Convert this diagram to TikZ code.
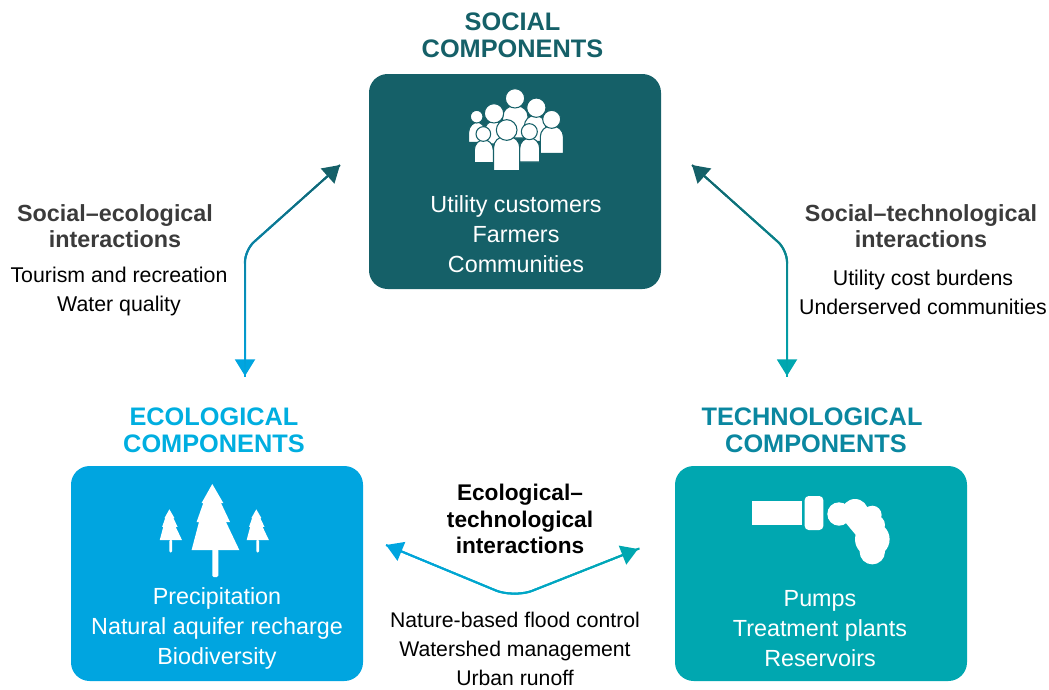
\documentclass[tikz,border=0pt]{standalone}
\usepackage{fontspec}
\setmainfont{Liberation Sans}
\usetikzlibrary{arrows.meta,decorations.markings}
\definecolor{socialc}{HTML}{156068}
\definecolor{ecoc}{HTML}{00A5E0}
\definecolor{techc}{HTML}{00A7B0}
\definecolor{ecohead}{HTML}{00AEE0}
\definecolor{techhead}{HTML}{0A87A0}
\definecolor{labelc}{HTML}{3B3B3B}
\newcommand{\gradpath}[4]{%
  \path[decorate,rounded corners=#4,decoration={markings,
    mark=between positions 0 and 1 step 1pt with {%
      \pgfmathsetmacro{\gradt}{100*(\pgfkeysvalueof{/pgf/decoration/mark info/distance from start}/\pgfdecoratedpathlength)}%
      \draw[line width=1.5pt,color=#2!\gradt!#1] (0,0) -- (1.4pt,0);
    }}] #3;%
}
\newcommand{\persona}[7]{%
  \path[iconfig] ({440+(#4-2)/3},{80+(#7+2)/3}) [rounded corners=8pt] -- ({440+(#4-2)/3},{80+(#6-2)/3}) -- ({440+(#5+2)/3},{80+(#6-2)/3}) [sharp corners] -- ({440+(#5+2)/3},{80+(#7+2)/3}) -- cycle;
  \path[iconfig] ({440+(#1)/3},{80+(#2)/3}) circle ({(#3+3)/3});
}
\newcommand{\bigtree}[3]{% x-offset y-offset scale
  \begin{scope}[shift={(#1,#2)},x=#3*0.75pt,y=-#3*0.75pt]
    \fill[white] (-3,-66) -- (8,-47) -- (5.7,-47) -- (14.7,-28) -- (10.7,-28) -- (24,0) -- (-23.7,0) -- (-16.3,-28) -- (-18.7,-28) -- (-12,-47) -- (-13.7,-47) -- cycle;
    \fill[white,rounded corners=1pt] (-3,-1) rectangle (3,27);
  \end{scope}
}
\tikzset{
  box/.style={rounded corners=14pt,minimum width=219pt,minimum height=161.25pt,inner sep=0pt,draw=none},
  boxtext/.style={text=white,font=\fontsize{17.5pt}{22.5pt}\selectfont,align=center,inner sep=0pt},
  headtext/.style={font=\fontsize{19pt}{20.3pt}\selectfont\bfseries,align=center,inner sep=0pt},
  intertitle/.style={font=\fontsize{17.5pt}{19.6pt}\selectfont\bfseries,align=center,inner sep=0pt,text=labelc},
  interlist/.style={font=\fontsize{16pt}{21.2pt}\selectfont,align=center,inner sep=0pt,text=black},
  iconfig/.style={fill=white,draw=socialc,line width=0.8pt},
  link/.style={line width=1.5pt,rounded corners=9pt},
}
\begin{document}
\begin{tikzpicture}[x=0.75pt,y=-0.75pt]
\useasboundingbox (0,0) rectangle (1049,689);

\node[box,fill=socialc] (social) at (515,181.5) {};
\node[box,fill=ecoc] (eco) at (217,573.5) {};
\node[box,fill=techc] (tech) at (821,573.5) {};

\node[headtext,text=socialc] (socialhead) at (512.5,35) {SOCIAL\\COMPONENTS};
\node[headtext,text=ecohead] (ecohd) at (214,430) {ECOLOGICAL\\COMPONENTS};
\node[headtext,text=techhead] (techhd) at (812,430) {TECHNOLOGICAL\\\hspace*{6pt}COMPONENTS};

\node[boxtext] (socialtext) at (516,234.5) {Utility customers\\Farmers\\Communities};
\node[boxtext] (ecotext) at (217,628) {Precipitation\\Natural aquifer recharge\\Biodiversity};
\node[boxtext] (techtext) at (820,629) {Pumps\\Treatment plants\\Reservoirs};

\node[intertitle] (setitle) at (115,226) {Social–ecological\\interactions};
\node[interlist] (selist) at (119,291.5) {Tourism and recreation\\Water quality};
\node[intertitle] (sttitle) at (921,226) {Social–technological\\interactions};
\node[interlist] (stlist) at (923,292.5) {Utility cost burdens\\Underserved communities};
\node[intertitle,text=black,font=\fontsize{17pt}{19.6pt}\selectfont\bfseries] (ettitle) at (520,519) {Ecological–\\technological\\interactions};
\node[interlist,font=\fontsize{15.9pt}{21.8pt}\selectfont] (etlist) at (515,649) {Nature-based flood control\\Watershed management\\Urban runoff};

% people icon
\persona{225}{55}{26}{190}{262}{80}{172}
\persona{289}{83}{26}{255}{315}{108}{182}
\persona{162}{100}{26}{135}{190}{124}{190}
\persona{110}{110}{16}{88}{135}{127}{185}
\persona{335}{118}{24}{303}{368}{140}{218}
\persona{130}{162}{19}{105}{158}{180}{246}
\persona{268}{155}{21}{241}{297}{175}{244}
\persona{200}{150}{28}{163}{237}{172}{270}

% tree icon
\bigtree{215.3}{550}{1}
\bigtree{170.8}{540}{0.465}
\bigtree{257.7}{540}{0.465}

% pump icon
\fill[white] (751.7,501.3) rectangle (801.7,525.3);
\fill[white,rounded corners=3pt] (804.7,496) rectangle (823.3,530);
\fill[white] (839,514) circle (11.7) (855,512.3) circle (13.3) (872.3,515) circle (9.3) (875,525) circle (10) (872.3,539.3) circle (17.3) (872.3,551.7) circle (12.7) (845,522) -- (858,500) -- (882,522) -- (885,540) -- (860,540) -- cycle;

% connectors
\coordinate (setop) at (340,165);
\coordinate (secorner) at (245,250);
\coordinate (sebot) at (245,376);
\coordinate (sttop) at (692,165);
\coordinate (stcorner) at (787,250);
\coordinate (stbot) at (787,376);
\coordinate (etleft) at (386,545);
\coordinate (etcorner) at (514,598);
\coordinate (etright) at (638,549);

\draw[link,ecoc,{Triangle[length=12.5pt,width=15pt,color=socialc,fill=socialc]}-{Triangle[length=12.5pt,width=15pt,color=ecoc,fill=ecoc]}] (setop) -- (secorner) -- (sebot);
\gradpath{socialc}{ecoc}{(setop) -- (secorner) -- (sebot)}{9pt}
\draw[link,techc,{Triangle[length=12.5pt,width=15pt,color=socialc,fill=socialc]}-{Triangle[length=12.5pt,width=15pt,color=techc,fill=techc]}] (sttop) -- (stcorner) -- (stbot);
\gradpath{socialc}{techc}{(sttop) -- (stcorner) -- (stbot)}{9pt}
\draw[link,rounded corners=15pt,ecoc!50!techc,{Triangle[length=12.5pt,width=15pt,color=ecoc,fill=ecoc]}-{Triangle[length=12.5pt,width=15pt,color=techc,fill=techc]}] (etleft) -- (etcorner) -- (etright);
\gradpath{ecoc}{techc}{(etleft) -- (etcorner) -- (etright)}{15pt}
\end{tikzpicture}
\end{document}
